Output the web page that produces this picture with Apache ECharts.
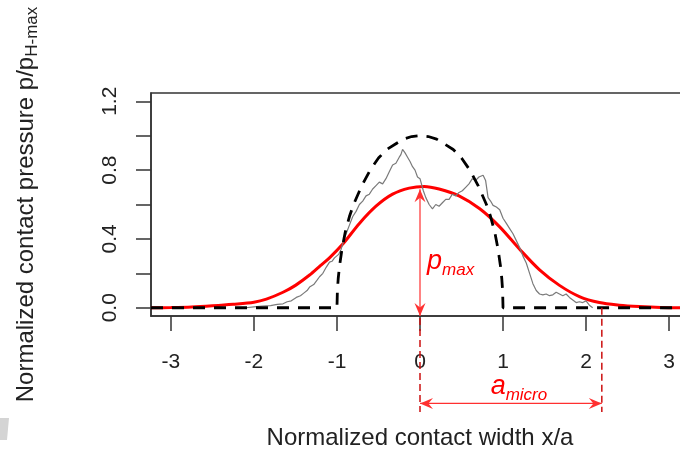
<!DOCTYPE html>
<html>
<head>
<meta charset="utf-8">
<script src="https://cdn.jsdelivr.net/npm/echarts@6/dist/echarts.min.js"></script>
<style>
  html, body { margin: 0; padding: 0; background: #fff; }
  #main { width: 680px; height: 453px; }
</style>
</head>
<body>
<div id="main"></div>
<script>
// axis ranges / ticks
var xMin = -3.24, xMax = 3.24;
var yMin = -0.048, yMax = 1.248;
var xTicks = [-3, -2, -1, 0, 1, 2, 3];
var yTicks = [0, 0.2, 0.4, 0.6, 0.8, 1.0, 1.2];
var yLabelVals = [0, 0.4, 0.8, 1.2];

// dashed Hertz profile
var hertzX = [-3.24, -1.0, -0.995, -0.985, -0.97, -0.94, -0.9, -0.85, -0.8, -0.7, -0.6, -0.5, -0.4, -0.3, -0.2, -0.1, 0,
              0.1, 0.2, 0.3, 0.4, 0.5, 0.6, 0.7, 0.8, 0.85, 0.9, 0.94, 0.97, 0.985, 0.995, 1.0, 3.24];
var hertzY = [0, 0, 0.1, 0.17, 0.24, 0.34, 0.44, 0.53, 0.6, 0.71, 0.8, 0.87, 0.92, 0.95, 0.98, 0.995, 1.0,
              0.995, 0.98, 0.95, 0.92, 0.87, 0.8, 0.71, 0.6, 0.53, 0.44, 0.34, 0.24, 0.17, 0.1, 0, 0];

// red fitted curve
var fitX = [-3.24, -3.0, -2.75, -2.5, -2.25, -2.0, -1.85, -1.65, -1.5, -1.33, -1.2, -1.09, -0.93, -0.73, -0.53, -0.33, -0.13, 0.05,
            0.23, 0.47, 0.72, 0.96, 1.2, 1.44, 1.68, 1.92, 2.16, 2.4, 2.64, 2.9, 3.24];
var fitY = [0, 0.001, 0.004, 0.011, 0.02, 0.032, 0.05, 0.09, 0.13, 0.19, 0.245, 0.29, 0.37, 0.49, 0.59, 0.66, 0.695, 0.705,
            0.69, 0.65, 0.575, 0.47, 0.34, 0.22, 0.13, 0.065, 0.03, 0.015, 0.007, 0.002, 0];

// grey measured profile
var measX = [-2.1, -2.0, -1.9, -1.8, -1.72, -1.65, -1.6, -1.55, -1.49, -1.44, -1.4, -1.36, -1.33, -1.28, -1.24, -1.21, -1.17,
             -1.13, -1.09, -1.06, -1.03, -1.01, -0.98, -0.95, -0.92, -0.89, -0.85, -0.81, -0.77, -0.73, -0.69, -0.65, -0.61,
             -0.57, -0.53, -0.49, -0.45, -0.41, -0.37, -0.33, -0.29, -0.25, -0.23, -0.21, -0.18, -0.15, -0.12, -0.09, -0.06,
             -0.03, 0.0, 0.04, 0.07, 0.11, 0.15, 0.19, 0.23, 0.27, 0.31, 0.35, 0.39, 0.43, 0.47, 0.51, 0.55, 0.59, 0.63, 0.67,
             0.71, 0.76, 0.79, 0.82, 0.85, 0.88, 0.92, 0.96, 1.0, 1.04, 1.08, 1.12, 1.16, 1.2, 1.24, 1.28, 1.32, 1.36, 1.4,
             1.44, 1.48, 1.52, 1.56, 1.6, 1.64, 1.68, 1.72, 1.76, 1.8, 1.84, 1.88, 1.92, 1.96, 2.0, 2.04, 2.08];
var measY = [0, 0.005, 0.01, 0.012, 0.02, 0.023, 0.035, 0.04, 0.06, 0.07, 0.085, 0.1, 0.12, 0.135, 0.16, 0.18, 0.2,
             0.235, 0.265, 0.27, 0.29, 0.28, 0.31, 0.34, 0.39, 0.43, 0.48, 0.53, 0.56, 0.6, 0.62, 0.65, 0.66,
             0.69, 0.71, 0.73, 0.72, 0.75, 0.79, 0.83, 0.84, 0.875, 0.89, 0.92, 0.9, 0.875, 0.85, 0.82, 0.8,
             0.76, 0.75, 0.68, 0.64, 0.6, 0.575, 0.6, 0.59, 0.61, 0.63, 0.63, 0.66, 0.65, 0.67, 0.68, 0.7, 0.72, 0.75, 0.74,
             0.76, 0.77, 0.74, 0.64, 0.62, 0.595, 0.585, 0.57, 0.52, 0.49, 0.46, 0.43, 0.39, 0.35, 0.3, 0.26, 0.2, 0.14, 0.1,
             0.08, 0.075, 0.08, 0.07, 0.075, 0.09, 0.08, 0.07, 0.08, 0.06, 0.045, 0.03, 0.035, 0.03, 0.04, 0.015, 0];

// annotation values
var pmaxX = 0, pmaxY = 0.70;
var aMicro = 2.19;
var arrowY = -0.556, dashBottomY = -0.606;

function pairs(xs, ys) {
   return xs.map(function (x, i) { return [x, ys[i]]; });
}

var font = 'Liberation Sans, Arial, sans-serif';
var myChart = echarts.init(document.getElementById('main'));
var option = {
   animation: false,
   grid: {
      left: 151, top: 93, width: 538, height: 223,
      outerBoundsMode: 'none', containLabel: false,
      show: true, borderColor: '#333', borderWidth: 1.5, backgroundColor: 'transparent'
   },
   xAxis: {
      type: 'value', min: xMin, max: xMax,
      axisLine: { show: true, onZero: false, lineStyle: { color: '#333', width: 1.5 } },
      axisTick: { show: true, length: 15, customValues: xTicks, lineStyle: { color: '#333', width: 1.5 } },
      axisLabel: { customValues: xTicks, margin: 36, fontSize: 21, color: '#222', fontFamily: font },
      splitLine: { show: false },
      name: 'Normalized contact width x/a', nameLocation: 'middle', nameGap: 110,
      nameTextStyle: { fontSize: 24, color: '#222', fontFamily: font }
   },
   yAxis: {
      type: 'value', min: yMin, max: yMax,
      axisLine: { show: true, onZero: false, lineStyle: { color: '#333', width: 1.5 } },
      axisTick: { show: true, length: 15, customValues: yTicks, lineStyle: { color: '#333', width: 1.5 } },
      axisLabel: {
         customValues: yLabelVals, rotate: 90, margin: 30, fontSize: 21, color: '#222', fontFamily: font,
         formatter: function (v) { return v.toFixed(1); }
      },
      splitLine: { show: false },
      name: 'Normalized contact pressure p/p{sub|H-max}', nameLocation: 'middle', nameGap: 110, nameRotate: 90,
      nameTextStyle: {
         fontSize: 24, color: '#222', fontFamily: font, lineHeight: 30,
         rich: { sub: { fontSize: 17, color: '#222', fontFamily: font, lineHeight: 16, verticalAlign: 'bottom' } }
      }
   },
   series: [
      {
         type: 'line', data: pairs(fitX, fitY), showSymbol: false, smooth: 0.3, z: 2,
         lineStyle: { color: '#ff0000', width: 3 }
      },
      {
         type: 'line', data: pairs(measX, measY), showSymbol: false, z: 3,
         lineStyle: { color: '#7a7a7a', width: 1.2 }
      },
      {
         type: 'line', data: pairs(hertzX, hertzY), showSymbol: false, z: 4,
         lineStyle: { color: '#000', width: 2.8, type: [12, 9] }
      }
   ]
};
myChart.setOption(option);

function P(x, y) { return myChart.convertToPixel({ gridIndex: 0 }, [x, y]); }
function head(tip, dx, dy, fill) {
   var L = 13, W = 5.5;
   var nx = -dy, ny = dx;
   return {
      type: 'polygon', silent: true, z: 10,
      shape: { points: [
         [tip[0], tip[1]],
         [tip[0] - dx * L + nx * W, tip[1] - dy * L + ny * W],
         [tip[0] - dx * L * 0.65, tip[1] - dy * L * 0.65],
         [tip[0] - dx * L - nx * W, tip[1] - dy * L - ny * W]
      ] },
      style: { fill: fill }
   };
}

var top0 = P(pmaxX, pmaxY); top0[1] += 2;
var bot0 = P(pmaxX, yMin);
var d0 = P(0, dashBottomY);
var dA0 = P(aMicro, 0);
var dA1 = P(aMicro, dashBottomY);
var h0 = P(0, arrowY), h1 = P(aMicro, arrowY);
var arrowRed = '#ff3030', dashRed = '#cc1010';
var labelP = P(pmaxX, 0.27);
var labelA = P(aMicro / 2, -0.46);

myChart.setOption({
   graphic: [
      { type: 'line', silent: true, z: 9, shape: { x1: top0[0], y1: top0[1], x2: bot0[0], y2: bot0[1] },
        style: { stroke: arrowRed, lineWidth: 1.2 } },
      head(top0, 0, -1, arrowRed),
      head(bot0, 0, 1, arrowRed),
      { type: 'line', silent: true, z: 9, shape: { x1: bot0[0], y1: bot0[1] + 2, x2: d0[0], y2: d0[1] },
        style: { stroke: dashRed, lineWidth: 1.5, lineDash: [7, 4] } },
      { type: 'line', silent: true, z: 9, shape: { x1: dA0[0], y1: dA0[1], x2: dA1[0], y2: dA1[1] },
        style: { stroke: dashRed, lineWidth: 1.5, lineDash: [7, 4] } },
      { type: 'line', silent: true, z: 9, shape: { x1: h0[0], y1: h0[1], x2: h1[0], y2: h1[1] },
        style: { stroke: arrowRed, lineWidth: 1.2 } },
      head(h0, -1, 0, arrowRed),
      head(h1, 1, 0, arrowRed),
      { type: 'text', silent: true, z: 10, x: labelP[0] + 7, y: labelP[1],
        style: {
           text: '{m|p}{s|max}', verticalAlign: 'middle', align: 'left',
           rich: {
              m: { fontSize: 27, fontStyle: 'italic', fontFamily: font, fill: '#ff0000', lineHeight: 34 },
              s: { fontSize: 17, fontStyle: 'italic', fontFamily: font, fill: '#ff0000', lineHeight: 17, verticalAlign: 'bottom' }
           }
        } },
      { type: 'text', silent: true, z: 10, x: labelA[0] + 8, y: labelA[1],
        style: {
           text: '{m|a}{s|micro}', verticalAlign: 'middle', align: 'center',
           rich: {
              m: { fontSize: 27, fontStyle: 'italic', fontFamily: font, fill: '#ff0000', lineHeight: 34 },
              s: { fontSize: 17, fontStyle: 'italic', fontFamily: font, fill: '#ff0000', lineHeight: 17, verticalAlign: 'bottom' }
           }
        } },
      { type: 'polygon', silent: true, shape: { points: [[0, 418], [9, 418], [7, 440], [0, 440]] },
        style: { fill: '#d4d4d4' } }
   ]
});
window.addEventListener("resize", function () {
   myChart.resize();
});
</script>
</body>
</html>
